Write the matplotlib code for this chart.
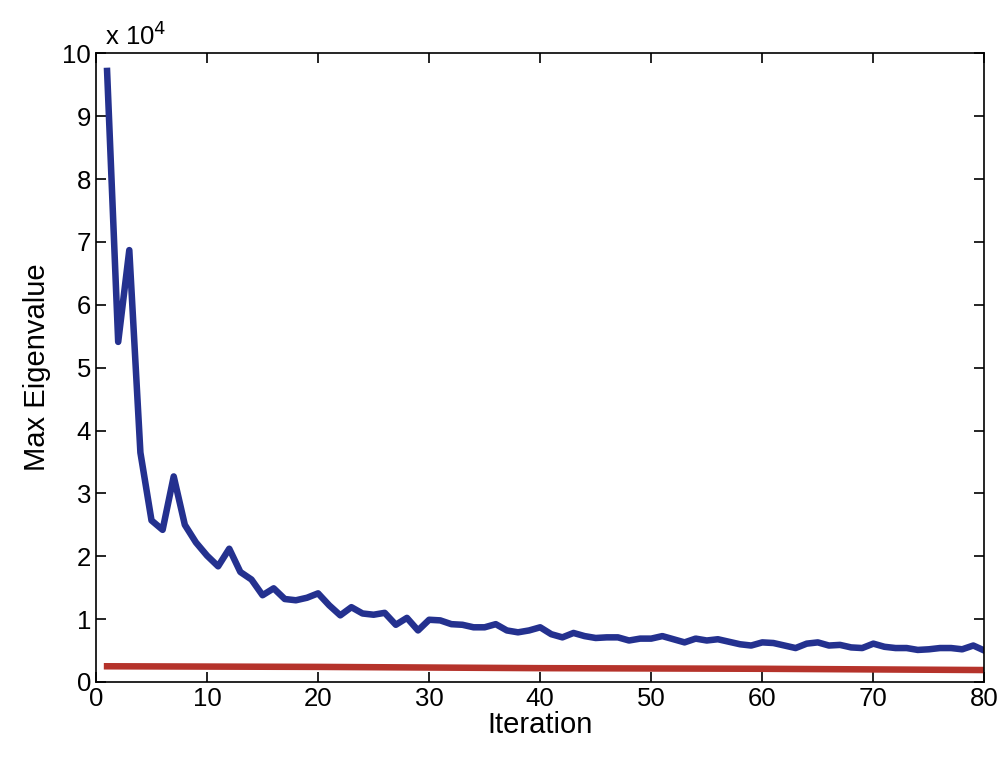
import matplotlib.pyplot as plt
import numpy as np

plt.rcParams['font.family'] = ['Liberation Sans', 'DejaVu Sans']

# max eigenvalue per iteration, in units of 1e4
iterations = np.arange(1, 81)
max_eig = [9.72, 5.41, 6.87, 3.65, 2.57, 2.42, 3.27, 2.50, 2.22, 2.01,
           1.84, 2.12, 1.75, 1.63, 1.38, 1.49, 1.32, 1.30, 1.34, 1.41,
           1.22, 1.06, 1.19, 1.09, 1.07, 1.10, 0.91, 1.02, 0.82, 0.99,
           0.98, 0.92, 0.91, 0.87, 0.87, 0.92, 0.82, 0.79, 0.82, 0.87,
           0.76, 0.71, 0.78, 0.73, 0.70, 0.71, 0.71, 0.66, 0.69, 0.69,
           0.73, 0.68, 0.63, 0.69, 0.66, 0.68, 0.64, 0.60, 0.58, 0.63,
           0.62, 0.58, 0.54, 0.61, 0.63, 0.58, 0.59, 0.55, 0.54, 0.61,
           0.56, 0.54, 0.54, 0.51, 0.52, 0.54, 0.54, 0.52, 0.58, 0.50]

# lower reference line
ref_iter = [1, 20, 40, 60, 80]
ref_val = [0.25, 0.24, 0.22, 0.21, 0.19]

fig = plt.figure(figsize=(10.05, 7.62), dpi=100)
ax = fig.add_axes([0.0955, 0.105, 0.884, 0.825])

ax.plot(iterations, max_eig, color='#24318f', linewidth=4.7, solid_joinstyle='round')
ax.plot(ref_iter, ref_val, color='#b5332b', linewidth=4.7)

ax.set_xlim(0, 80)
ax.set_ylim(0, 10)
ax.set_xticks(range(0, 81, 10))
ax.set_yticks(range(0, 11))
ax.tick_params(direction='in', top=True, right=True, labelsize=18.5, length=7, width=1.2)
for s in ax.spines.values():
    s.set_linewidth(1.2)

ax.set_xlabel('Iteration', fontsize=21, labelpad=0)
ax.set_ylabel('Max Eigenvalue', fontsize=21, labelpad=8)
ax.text(0.01, 1.005, r'x 10$^4$', transform=ax.transAxes, fontsize=18.5,
        ha='left', va='bottom')

plt.savefig('out.png', dpi=100)
